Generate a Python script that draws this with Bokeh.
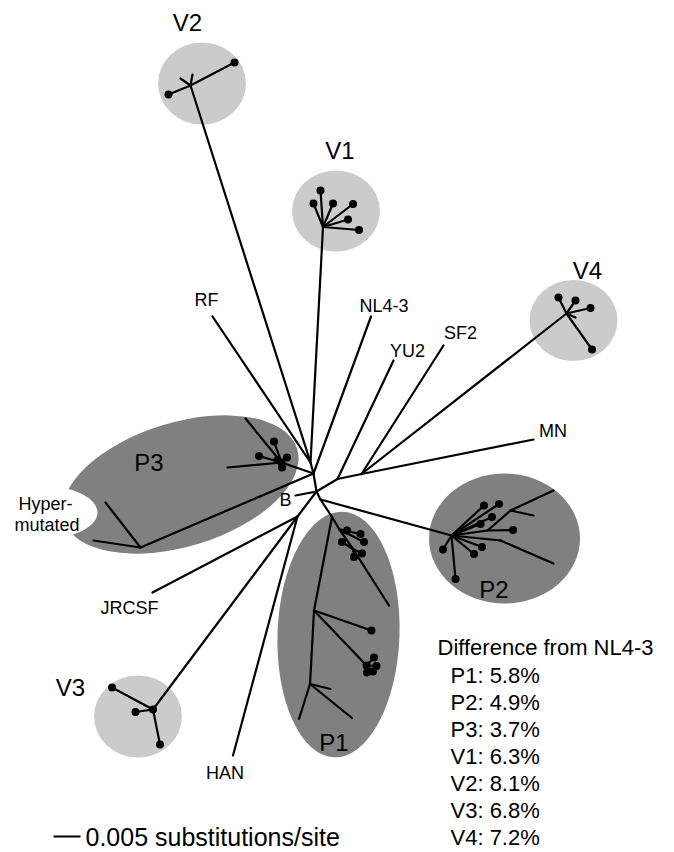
from bokeh.plotting import figure
from bokeh.models import ColumnDataSource, Range1d
from bokeh.core.properties import value
from bokeh.embed import file_html
from bokeh.resources import INLINE

# ---------------- data ----------------
# tree nodes of the unrooted tree (drawing units)
node_names = ["A", "B", "D", "F", "E", "Y", "Z",
              "V2", "v2a", "v2b", "v2c", "v2d", "RF",
              "V1", "v1a", "v1b", "v1c", "v1d", "v1e", "v1f",
              "NL4-3", "YU2", "SF2", "MN",
              "V4", "v4a", "v4b", "v4c", "v4d", "v4e",
              "P3c", "p3a", "p3b", "p3c", "p3d", "p3e", "p3f", "p3g",
              "H3", "h3a", "h3b", "Btip",
              "JRCSF", "V3", "v3a", "v3b", "v3c", "HAN",
              "Q", "S1", "S2", "p2a", "p2b", "p2c", "T", "p2d",
              "p2e", "p2f", "p2g", "p2h", "p2i", "p2j", "p2k", "p2l",
              "G", "P1a", "P1b", "p1x", "p1a1", "p1a2", "p1a3",
              "p1b1", "p1b2", "p1b3",
              "H", "p1b", "K", "p1c", "p1d", "p1e", "p1f",
              "J", "p1h", "p1i", "p1j"]
node_x = [310, 313, 316, 320, 297, 337, 361,
          190, 168, 234, 180, 192, 212,
          322.5, 320, 313, 332.5, 352.5, 347.5, 358.5,
          370.5, 393, 443, 533,
          566, 558, 575, 590, 591.5, 575,
          281, 245, 227, 273.5, 258.5, 286.5, 281.5, 277,
          140, 105, 93, 295,
          152, 152.5, 111.5, 135, 159.5, 232.5,
          451, 487, 510, 553, 533, 512.5, 500, 553,
          483.5, 498.5, 491.5, 480, 481.5, 473.5, 442.5, 455,
          331.5, 339, 352.5, 388.5, 346.5, 360, 363.5,
          341.5, 353.5, 361.5,
          313.5, 371, 366, 373.5, 376, 372.5, 366.5,
          309.5, 330, 351.5, 298.5]
node_y = [462, 473, 491, 499, 516, 478.5, 473.5,
          85, 94, 62, 78, 74, 316,
          226.5, 190, 203, 203, 203.5, 219, 229.5,
          316, 360, 345, 439,
          313, 297, 300, 307.5, 349, 317,
          462, 418, 467, 441, 455.5, 457, 467, 459.5,
          547, 502, 540, 495,
          592, 709, 687, 711.5, 744, 755,
          535, 530, 510, 490, 515, 529.5, 540, 563,
          505, 503.5, 516.5, 523.5, 546.5, 553.5, 549, 578.5,
          516.5, 529, 548.5, 605, 530, 533.5, 541.5,
          541.5, 556.5, 553,
          610, 630, 665, 657, 665.5, 671, 672,
          683.5, 688.5, 717.5, 718.5]

# branches (parent -> child)
branch_parent = ["A", "A", "A", "A", "B", "B", "B", "B",
                 "D", "D", "D", "D", "Y", "Y", "Z", "Z", "Z",
                 "V2", "V2", "V2", "V2",
                 "V1", "V1", "V1", "V1", "V1", "V1",
                 "V4", "V4", "V4", "V4", "V4",
                 "P3c", "P3c", "P3c", "P3c", "P3c", "P3c", "P3c",
                 "H3", "H3",
                 "E", "E", "E", "V3", "V3", "V3",
                 "F", "F",
                 "Q", "Q", "Q", "Q", "Q", "Q", "Q", "Q", "Q", "Q",
                 "S1", "S1", "S2", "S2", "T",
                 "G", "G", "P1a", "P1a", "P1a", "P1a",
                 "P1b", "P1b", "P1b", "P1b",
                 "H", "H", "H", "K", "K", "K", "K",
                 "J", "J", "J"]
branch_child = ["V2", "RF", "V1", "B", "NL4-3", "P3c", "H3", "D",
                "Btip", "Y", "E", "F", "YU2", "Z", "MN", "SF2", "V4",
                "v2a", "v2b", "v2c", "v2d",
                "v1a", "v1b", "v1c", "v1d", "v1e", "v1f",
                "v4a", "v4b", "v4c", "v4d", "v4e",
                "p3a", "p3b", "p3c", "p3d", "p3e", "p3f", "p3g",
                "h3a", "h3b",
                "JRCSF", "V3", "HAN", "v3a", "v3b", "v3c",
                "Q", "G",
                "S1", "T", "p2e", "p2f", "p2g", "p2h", "p2i", "p2j", "p2k", "p2l",
                "S2", "p2c", "p2a", "p2b", "p2d",
                "P1a", "H", "P1b", "p1a1", "p1a2", "p1a3",
                "p1x", "p1b1", "p1b2", "p1b3",
                "p1b", "K", "J", "p1c", "p1d", "p1e", "p1f",
                "p1h", "p1i", "p1j"]

# sampled sequences (drawn with a dot)
sampled = ["v2a", "v2b", "v1a", "v1b", "v1c", "v1d", "v1e", "v1f",
           "v4a", "v4b", "v4c", "v4d",
           "p3c", "p3d", "p3e", "p3f", "p3g", "P3c",
           "V3", "v3a", "v3b", "v3c",
           "p2c", "p2e", "p2f", "p2g", "p2h", "p2i", "p2j", "p2k", "p2l",
           "p1a1", "p1a2", "p1a3", "p1b1", "p1b2", "p1b3",
           "p1b", "K", "p1c", "p1d", "p1e", "p1f"]

# reference strains
taxa = ["RF", "NL4-3", "YU2", "SF2", "MN", "B", "JRCSF", "HAN"]
taxa_label_x = [206, 383.5, 407, 460, 552.5, 285, 129, 224.5]
taxa_label_y = [299, 305, 350, 332, 430, 499.5, 607, 772]

# patient / group clusters
groups = ["P1", "P2", "P3", "V1", "V2", "V3", "V4"]
group_diff = [5.8, 4.9, 3.7, 6.3, 8.1, 6.8, 7.2]
group_cx = [338, 504, 180, 335.5, 201.5, 137.5, 573]
group_cy = [634, 538, 484, 210.5, 83, 716, 320]
group_rx = [61, 75.5, 122, 44, 44, 44, 44]
group_ry = [123, 65, 62, 40.5, 41, 41, 40.5]
group_angle = [-2, 0, 17, 0, 0, 0, 0]
group_color = ["#808080", "#808080", "#808080", "#cbcbcb", "#cbcbcb", "#cbcbcb", "#cbcbcb"]
group_label_x = [333.5, 493.5, 148.5, 339.5, 187, 70, 587]
group_label_y = [742, 588.5, 462, 150, 22, 687, 270]

# ---------------- figure ----------------
W, H = 674, 852
p = figure(width=W, height=H, x_range=Range1d(0, W), y_range=Range1d(H, 0),
           output_backend="svg", toolbar_location=None, min_border=0,
           x_axis_type=None, y_axis_type=None)
p.grid.visible = False
p.outline_line_color = None
p.background_fill_color = "white"

FONT = value("Liberation Sans")

# cluster shading
gsrc = ColumnDataSource(dict(x=group_cx, y=group_cy,
                             w=[2 * r for r in group_rx], h=[2 * r for r in group_ry],
                             a=group_angle, c=group_color))
p.ellipse(x="x", y="y", width="w", height="h", angle="a", angle_units="deg",
          fill_color="c", line_color=None, source=gsrc)
# notch for the hypermutated sequences
p.ellipse(x=[40], y=[512], width=[114], height=[54], fill_color="white", line_color=None)

# branches
idx = {n: i for i, n in enumerate(node_names)}
bsrc = ColumnDataSource(dict(
    x0=[node_x[idx[a]] for a in branch_parent], y0=[node_y[idx[a]] for a in branch_parent],
    x1=[node_x[idx[b]] for b in branch_child], y1=[node_y[idx[b]] for b in branch_child]))
p.segment(x0="x0", y0="y0", x1="x1", y1="y1", line_color="black", line_width=2.2,
          line_cap="round", source=bsrc)

# sampled sequence dots
p.scatter(x=[node_x[idx[n]] for n in sampled], y=[node_y[idx[n]] for n in sampled],
          size=8, fill_color="black", line_color=None)

# strain labels
p.text(x=taxa_label_x, y=taxa_label_y, text=taxa, text_font=FONT, text_font_size="18px",
       text_align="center", text_baseline="middle", text_color="black")
# group labels
p.text(x=group_label_x, y=group_label_y, text=groups, text_font=FONT, text_font_size="24px",
       text_align="center", text_baseline="middle", text_color="black")
p.text(x=[45, 46.5], y=[503, 524], text=["Hyper-", "mutated"], text_font=FONT,
       text_font_size="18px", text_align="center", text_baseline="middle", text_color="black")

# difference table
p.text(x=[437], y=[647], text=["Difference from NL4-3"], text_font=FONT, text_font_size="22px",
       text_align="left", text_baseline="middle", text_color="black")
rows = [f"{g}: {d:.1f}%" for g, d in zip(groups, group_diff)]
p.text(x=[450] * len(rows), y=[675 + 27.0 * i for i in range(len(rows))], text=rows,
       text_font=FONT, text_font_size="22px", text_align="left", text_baseline="middle",
       text_color="black")

# scale bar
p.segment(x0=[53], y0=[836], x1=[80], y1=[836], line_color="black", line_width=2)
p.text(x=[85], y=[836], text=["0.005 substitutions/site"], text_font=FONT,
       text_font_size="25px", text_align="left", text_baseline="middle", text_color="black")

open("out.html", "w").write(file_html(p, INLINE))
